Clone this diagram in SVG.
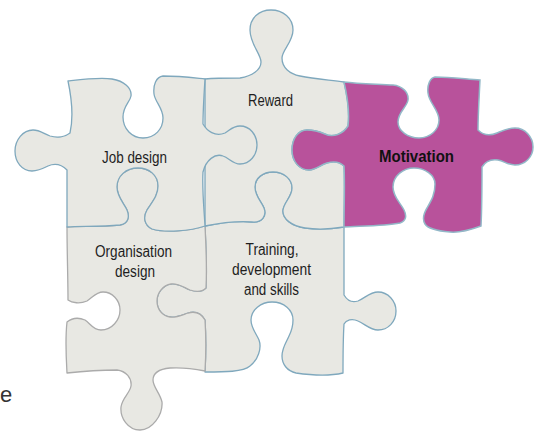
<svg xmlns="http://www.w3.org/2000/svg" width="536" height="437" viewBox="0 0 536 437">
<style>
.p{fill:#e8e8e3;stroke:#7fa8bd;stroke-width:1.3;stroke-linejoin:round}
.org{stroke:#ababab}
.mot{fill:#b8529b;stroke:#93b8c8;stroke-width:1.5}
.t{font-family:"Liberation Sans",Arial,sans-serif;font-size:16px;fill:#1e1e1e;text-anchor:middle}
.b{font-weight:bold;fill:#111}
</style>
<rect width="536" height="437" fill="#ffffff"/>
<g id="connectors"></g>
<g id="training">
<path class="p" d="M205,226 C220,223 240,221 252,222 C262,223 267,216 264,208 C261,201 255,196 255,187 C255,178 263,172 273,172 C284,172 292,179 292,188 C292,197 284,202 283,210 C282,219 292,226 305,228 C318,230 332,229 344,227 C344,250 344,275 344,295 C347,300 352,303 358,301 C365,298 370,292 378,292 C388,292 396,301 396,311 C396,322 388,330 378,330 C370,330 365,324 358,321 C352,318 346,320 344,324 C343,340 343,355 343,373 C330,376 310,375 296,373 C287,371 282,364 282,356 C282,348 286,343 289,336 C292,330 293,325 293,320 C293,310 284,302 272,302 C261,302 251,310 251,320 C251,328 256,333 259,340 C262,348 258,360 250,366 C243,372 225,372 205,372 C206,355 206,335 205,320 C201,313 195,311 188,313 C182,315 176,318 170,317 C162,316 157,309 157,301 C157,293 163,285 171,284 C178,283 183,287 190,290 C196,292 202,292 206,288 C207,270 206,245 205,226 Z"/>
<text class="t" x="272" y="255" textLength="53" lengthAdjust="spacingAndGlyphs">Training,</text>
<text class="t" x="271.5" y="275" textLength="79" lengthAdjust="spacingAndGlyphs">development</text>
<text class="t" x="271.5" y="295" textLength="55" lengthAdjust="spacingAndGlyphs">and skills</text>
</g>
<g id="organisation">
<path class="p org" d="M67,227 C80,226 100,227 120,225 C128,224 130,217 127,210 C124,203 117,197 117,187 C117,176 126,168 138,168 C149,168 158,175 158,186 C158,196 152,202 147,210 C143,217 144,225 152,229 C165,233 190,231 205,226 C206,245 207,270 206,288 C202,292 196,292 190,290 C183,287 178,283 171,284 C163,285 157,293 157,301 C157,309 162,316 170,317 C176,318 182,315 188,313 C195,311 201,313 205,320 C206,335 206,355 205,371 C195,369 185,367 170,368 C160,369 153,372 153,380 C153,387 160,393 162,402 C163,415 152,430 140,430 C128,430 120,418 121,407 C122,398 130,393 131,386 C132,378 126,371 117,370 C100,370 85,371 67,373 C66,355 65,340 67,322 C72,318 78,317 85,320 C90,323 93,330 101,330 C112,330 120,320 120,310 C120,300 112,292 103,292 C96,292 92,298 87,301 C80,304 72,303 68,300 C68,280 67,250 67,227 Z"/>
<text class="t" x="133.5" y="257" textLength="77" lengthAdjust="spacingAndGlyphs">Organisation</text>
<text class="t" x="135" y="277" textLength="40" lengthAdjust="spacingAndGlyphs">design</text>
</g>
<g id="reward">
<path class="p" d="M205,79 C215,78 230,78 240,78 C252,76 261,70 261,62 C261,54 250,44 250,30 C250,18 259,10 271,10 C283,10 293,18 293,30 C293,42 282,50 282,58 C282,68 290,74 300,76 C315,79 330,80 344,82 C347,95 350,110 348,126 C343,134 333,138 325,134 C318,131 314,130 307,130 C298,130 292,139 292,150 C292,161 299,170 309,170 C316,170 320,165 327,163 C334,161 340,162 344,166 C345,185 344,205 344,227 C332,229 318,230 305,228 C292,226 282,219 283,210 C284,202 292,197 292,188 C292,179 284,172 273,172 C263,172 255,178 255,187 C255,196 261,201 264,208 C267,216 262,223 252,222 C240,221 220,223 205,226 Z"/>
<text class="t" x="270.5" y="106" textLength="45" lengthAdjust="spacingAndGlyphs">Reward</text>
</g>
<g id="job-design">
<path class="p" d="M68,81 C85,79 100,77 112,79 C124,81 132,88 131,96 C130,102 123,106 123,117 C123,129 132,138 143,138 C155,138 163,129 163,118 C163,108 155,102 154,94 C153,85 156,77 163,76 C180,76 195,78 205,79 C204,95 203,110 203,124 C207,131 215,137 225,133 C230,130 233,126 240,126 C250,126 257,135 257,145 C257,155 250,164 240,164 C233,164 229,158 223,156 C215,153 206,160 203,172 C202,190 204,208 205,226 C190,231 165,233 152,229 C144,225 143,217 147,210 C152,202 158,196 158,186 C158,175 149,168 138,168 C126,168 117,176 117,187 C117,197 124,203 127,210 C130,217 128,224 120,225 C100,227 80,226 67,227 C67,210 67,190 67,170 C62,165 55,163 48,166 C42,169 38,171 32,171 C22,171 15,162 15,151 C15,140 23,130 33,130 C40,130 44,134 50,136 C57,138 65,137 70,133 C73,120 72,100 68,81 Z"/>
<text class="t" x="134.5" y="162.5" textLength="65" lengthAdjust="spacingAndGlyphs">Job design</text>
</g>
<g id="motivation">
<path class="mot" d="M344,82 C360,84 380,84 393,85 C402,86 409,92 408,100 C407,107 398,112 398,122 C398,131 408,138 419,138 C430,138 439,130 439,120 C439,110 429,103 428,93 C427,85 430,78 435,77 C450,77 465,79 480,80 C479,100 478,115 478,130 C483,135 490,136 497,133 C504,130 508,128 515,128 C525,128 533,137 533,147 C533,157 525,165 515,165 C508,165 504,161 498,160 C491,159 485,162 482,167 C482,185 482,205 481,226 C470,230 460,233 450,232 C438,231 428,229 425,224 C422,219 424,213 427,208 C431,201 435,195 435,184 C435,175 425,168 414,168 C403,168 393,176 393,187 C393,197 400,202 404,210 C407,216 406,221 400,223 C385,226 360,226 344,227 C344,205 345,185 344,166 C340,162 334,161 327,163 C320,165 316,170 309,170 C299,170 292,161 292,150 C292,139 298,130 307,130 C314,130 318,131 325,134 C333,138 343,134 348,126 C350,110 347,95 344,82 Z"/>
<text class="t b" x="416.5" y="162" textLength="75" lengthAdjust="spacingAndGlyphs">Motivation</text>
</g>
<text x="0" y="402" font-family="Liberation Sans, Arial, sans-serif" font-size="22" fill="#333">e</text>
</svg>
